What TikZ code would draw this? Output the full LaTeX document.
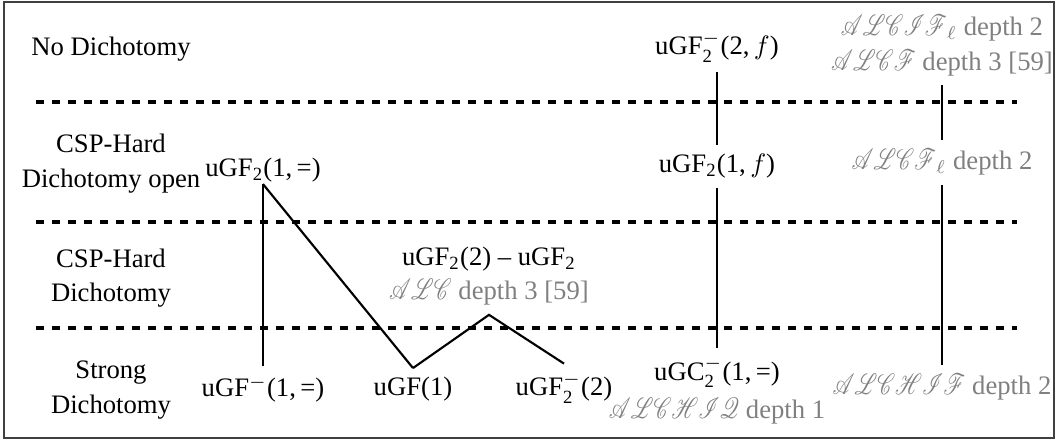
\documentclass[tikz,border=0pt]{standalone}
\usepackage{fontspec}
\setmainfont{Liberation Serif}
\usepackage{amsmath}
\usepackage{mathrsfs}
\usepackage{graphicx}
% description logics in script letters, set a little narrower and taller
\newcommand{\dlg}[1]{\scalebox{0.8}[1.1]{$\mathscr{#1}$}}
\begin{document}
\begin{tikzpicture}[x=0.375pt,y=-0.375pt,
  every node/.style={font=\fontsize{10}{13}\selectfont},
  band/.style={align=center, anchor=center},
  frg/.style={anchor=base},
  stack/.style={align=center, anchor=center},
  note/.style={text=black!50},
  link/.style={thick},
  sepline/.style={dashed, very thick}]
\useasboundingbox (0,0) rectangle (1061,440);
\draw[black!75, line width=0.6pt] (4,2) rectangle (1054,438);

% separators between the classes
\draw[sepline] (36,102) -- (1017,102);
\draw[sepline] (36,222) -- (1017,222);
\draw[sepline] (36,328) -- (1017,328);

% class names
\node[frg] (c1) at (111,56) {No Dichotomy};
\node[band] (c2) at (111,163.5) {CSP-Hard\\Dichotomy open};
\node[band] (c3) at (111,278) {CSP-Hard\\Dichotomy};
\node[band] (c4) at (111,390) {Strong\\Dichotomy};

% guarded fragments
\node[frg] (a1) at (263,177) {uGF$_{\text{2}}$(1,\,=)};
\node[frg] (a2) at (263,397) {uGF$^{-}$(1,\,=)};
\node[frg] (b1) at (413,396) {uGF(1)};
\node[stack] (b2) at (489,276) {uGF$_{\text{2}}$(2) -- uGF$_{\text{2}}$\\
  \textcolor{black!50}{\dlg{ALC} depth 3 [59]}};
\node[frg] (b3) at (564,396) {uGF$^{-}_{\text{2}}$(2)};

\node[frg] (d1) at (717,55) {uGF$^{-}_{\text{2}}$(2,\,$f$)};
\node[frg] (d2) at (717,173) {uGF$_{\text{2}}$(1,\,$f$)};
\node[stack] (d3) at (717,391) {uGC$^{-}_{\text{2}}$(1,\,=)\\[1.5pt]
  \textcolor{black!50}{\dlg{ALCHIQ} depth 1}};

% description logics
\node[stack, note] (e1) at (942,45.5) {\dlg{ALCIF}$_{\ell}$ depth 2\\\dlg{ALCF} depth 3 [59]};
\node[frg, note] (e2) at (942,170) {\dlg{ALCF}$_{\ell}$ depth 2};
\node[frg, note] (e3) at (942,395) {\dlg{ALCHIF} depth 2};

% connections
\draw[link] ([yshift=3pt]a1.south) -- (a2.north);
\draw[link] ([yshift=3pt]a1.south) -- (b1.north);
\draw[link] (b1.north) -- (b2.south) -- (b3.north);
\draw[link] (d1.south) -- (d2.north);
\draw[link] (d2.south) -- (d3.north);
\draw[link] (e1.south) -- (e2.north);
\draw[link] (e2.south) -- (e3.north);
\end{tikzpicture}
\end{document}
